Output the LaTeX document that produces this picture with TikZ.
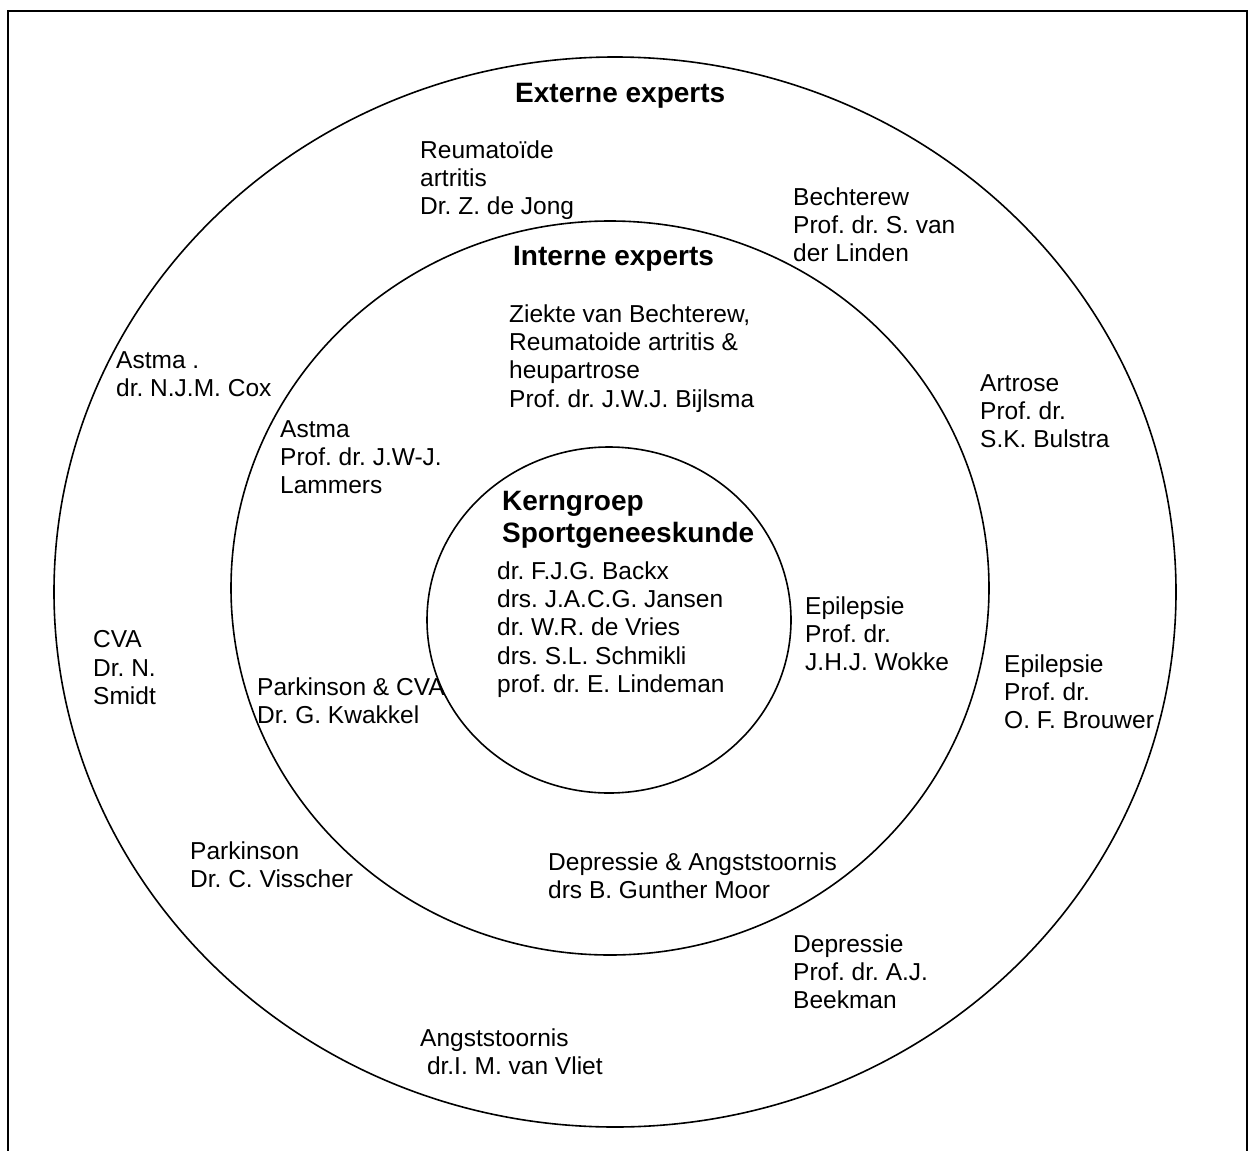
\documentclass[tikz,border=0pt]{standalone}
\usepackage{fontspec}
\setmainfont{Liberation Sans}
\frenchspacing
\tikzset{
	ring/.style={line width=1.6pt},
	lbl/.style={anchor=north west, inner sep=0pt, align=left, font=\fontsize{24.5}{28.2}\selectfont},
	ttl/.style={anchor=north west, inner sep=0pt, align=left, font=\bfseries\fontsize{28}{32.2}\selectfont}
}

\begin{document}
\begin{tikzpicture}[x=1pt, y=-1pt]
			%%%%% START %%%%%
			\useasboundingbox (0, 0) rectangle (1253, 1151);
			
			\draw[line width=2pt] (7.5, 1151) -- (7.5, 11) -- (1246.5, 11) -- (1246.5, 1151);
			
			\draw[ring] (615, 592) ellipse [x radius=561, y radius=535];
			\draw[ring] (610, 588) ellipse [x radius=379, y radius=367];
			\draw[ring] (609, 620) ellipse [x radius=182, y radius=173];
			
			\node[ttl] (extern) at (515, 83) {Externe experts};
			\node[ttl] (intern) at (513, 246) {Interne experts};
			\node[ttl] (kern) at (502, 491) {Kerngroep\\Sportgeneeskunde};
			
			\node[lbl] (kernlijst) at (497, 561.5) {dr. F.J.G. Backx\\drs. J.A.C.G. Jansen\\dr. W.R. de Vries\\drs. S.L. Schmikli\\prof. dr. E. Lindeman};
			
			\node[lbl] (ziekte) at (509, 304.5) {Ziekte van Bechterew,\\Reumatoide artritis \&\\heupartrose\\Prof. dr. J.W.J. Bijlsma};
			\node[lbl] (astmaint) at (280, 420.5) {Astma\\Prof. dr. J.W-J.\\Lammers};
			\node[lbl] (epiint) at (805, 596.5) {Epilepsie\\Prof. dr.\\J.H.J. Wokke};
			\node[lbl] (parkcva) at (257, 677.5) {Parkinson \& CVA\\Dr. G. Kwakkel};
			\node[lbl] (depangst) at (548, 852.5) {Depressie \& Angststoornis\\drs B. Gunther Moor};
			
			\node[lbl] (reuma) at (420, 140.5) {Reumatoïde\\artritis\\Dr. Z. de Jong};
			\node[lbl] (bechterew) at (793, 187.5) {Bechterew\\Prof. dr. S. van\\der Linden};
			\node[lbl] (astmaext) at (116, 351.5) {Astma .\\dr. N.J.M. Cox};
			\node[lbl] (artrose) at (980, 374.5) {Artrose\\Prof. dr.\\S.K. Bulstra};
			\node[lbl] (cva) at (93, 630.5) {CVA\\Dr. N.\\Smidt};
			\node[lbl] (epiext) at (1004, 654.5) {Epilepsie\\Prof. dr.\\O. F. Brouwer};
			\node[lbl] (parkinson) at (190, 841.5) {Parkinson\\Dr. C. Visscher};
			\node[lbl] (depressie) at (793, 934.5) {Depressie\\Prof. dr. A.J.\\Beekman};
			\node[lbl] (angst) at (420, 1028.5) {Angststoornis\\\hspace*{6.8pt}dr.I. M. van Vliet};
			
			%%%%% END %%%%%
\end{tikzpicture}
\end{document}
